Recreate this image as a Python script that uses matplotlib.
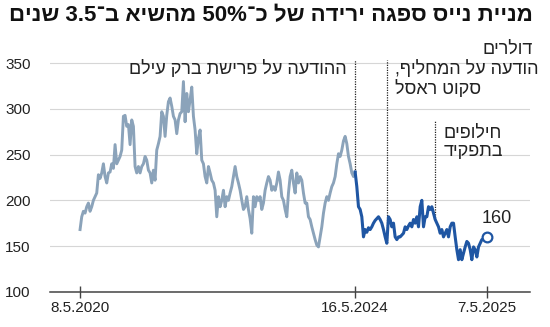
import re
import matplotlib
matplotlib.use("Agg")
import matplotlib.pyplot as plt
import numpy as np

# closing price, USD
PAST = [168, 182, 188, 186, 193, 197, 188, 193, 200, 204, 208, 228, 224, 230, 240, 226,
        219, 230, 231, 240, 235, 261, 240, 244, 248, 255, 292, 293, 281, 283, 261, 288,
        281, 237, 230, 237, 230, 237, 240, 248, 244, 233, 230, 219, 233, 222, 255, 262,
        270, 297, 292, 270, 293, 308, 312, 303, 292, 288, 273, 288, 295, 297, 330, 286,
        317, 297, 310, 324, 292, 277, 251, 268, 277, 244, 240, 226, 219, 237, 230, 222,
        219, 211, 182, 204, 193, 200, 211, 193, 204, 200, 208, 215, 226, 237, 226, 219,
        211, 200, 190, 193, 204, 190, 180, 164, 204, 193, 204, 200, 204, 190, 197, 211,
        219, 226, 222, 211, 215, 211, 219, 231,
        222, 204, 200, 190, 182, 208, 226, 233, 219, 208, 230, 219, 226, 222, 208, 197,
        197, 182, 179, 171, 164, 157, 151, 149, 160, 171, 186, 197, 204, 200, 208, 215,
        219, 226, 240, 251, 248, 255, 265, 270, 262, 248, 240, 230, 226, 231]
AFTER = [215, 193, 190, 182, 160, 168, 165, 170, 168, 171, 175, 178, 180, 182, 179, 175,
         168, 160, 153, 182, 179, 171, 175, 160, 157, 160, 160, 162, 164, 171, 168, 172,
         175, 171, 179, 175, 182, 171, 193, 200, 171, 182, 182, 193, 190, 193, 186, 179,
         175, 171, 164, 168, 160, 164, 168, 160, 171, 175, 175, 160, 146, 135, 146, 135,
         142, 149, 155, 153, 146, 135, 149, 146, 138, 149, 153, 157, 158, 159, 160]
RECENT = [PAST[-1]] + AFTER

X_LABELS = ["8.5.2020", "16.5.2024", "7.5.2025"]
Y_TICKS = [100, 150, 200, 250, 300, 350]

TITLE = "מניית נייס ספגה ירידה של כ־50% מהשיא ב־3.5 שנים"
SUBTITLE = "דולרים"
# (offset into RECENT, top of dotted line in $, text lines, side)
NOTES = [
    (0, 353.5, ["ההודעה על פרישת ברק עילם"], "left"),
    (19, 353.5, ["הודעה על המחליף,", "סקוט ראסל"], "right"),
    (48, 287, ["חילופים", "בתפקיד"], "right"),
]

FONT = ["Liberation Sans Narrow", "Liberation Sans", "DejaVu Sans"]
GREY = "#8ba3ba"
BLUE = "#1f56a3"


def rtl(s):
    # matplotlib has no bidi, so lay Hebrew out in visual order by hand
    parts = re.findall(r"\d[\d.%]*|\D+", s)
    return "".join(p if p[0].isdigit() else p[::-1] for p in reversed(parts))


plt.rcParams["font.family"] = FONT

fig = plt.figure(figsize=(5.5, 3.27), dpi=100)
ax = fig.add_axes([0.091, 0.108, 0.873, 0.704])

x_past = np.arange(len(PAST))
x_recent = np.arange(len(RECENT)) + len(PAST) - 1

ax.plot(x_past, PAST, color=GREY, lw=2.1, solid_joinstyle="round", zorder=3)
ax.plot(x_recent, RECENT, color=BLUE, lw=2.2, solid_joinstyle="round", zorder=4)
ax.plot(x_recent[-1], RECENT[-1], "o", ms=7, mfc="white", mec=BLUE, mew=1.6, zorder=5)
ax.annotate(str(RECENT[-1]), (x_recent[-1], RECENT[-1]), xytext=(-4, 7),
            textcoords="offset points", ha="left", va="bottom", fontsize=13, color="#222222")

for off, top, lines, side in NOTES:
    xi = x_recent[off]
    ax.plot([xi, xi], [RECENT[off], top], color="#222222", lw=0.9, ls=(0, (1, 1)),
            clip_on=False, zorder=2)
    txt = "\n".join(rtl(l) for l in lines)
    dy = 0 if top > 350 else -3
    if side == "left":
        ax.annotate(txt, (xi, top), xytext=(-6, dy), textcoords="offset points",
                    ha="right", va="top", fontsize=13, color="#222222", linespacing=1.1,
                    annotation_clip=False)
    else:
        ax.annotate(txt, (xi, top), xytext=(6, dy), textcoords="offset points",
                    ha="left", va="top", fontsize=13, color="#222222", linespacing=1.1,
                    multialignment="left", annotation_clip=False)

ax.set_xlim(-18, 270)
ax.set_ylim(100, 352)
ax.set_yticks(Y_TICKS)
ax.set_xticks([0, len(PAST) - 1, x_recent[-1]])
ax.set_xticklabels(X_LABELS)
ax.grid(axis="y", color="#d6d6d6", lw=0.8)
ax.set_axisbelow(True)
for s in ["top", "right", "left"]:
    ax.spines[s].set_visible(False)
ax.spines["bottom"].set_color("#444444")
ax.spines["bottom"].set_linewidth(1.1)
ax.tick_params(axis="y", length=0, pad=14, labelsize=11, labelcolor="#222222")
ax.tick_params(axis="x", direction="inout", length=8, width=1, color="#444444",
               pad=3, labelsize=11, labelcolor="#222222")
for lab in ax.get_yticklabels():
    lab.set_horizontalalignment("right")

fig.text(0.969, 0.952, rtl(TITLE), ha="right", va="center", fontsize=16,
         fontweight="bold", color="#111111")
fig.text(0.969, 0.85, rtl(SUBTITLE), ha="right", va="center", fontsize=13,
         color="#222222")

fig.savefig("out.png", dpi=100)
